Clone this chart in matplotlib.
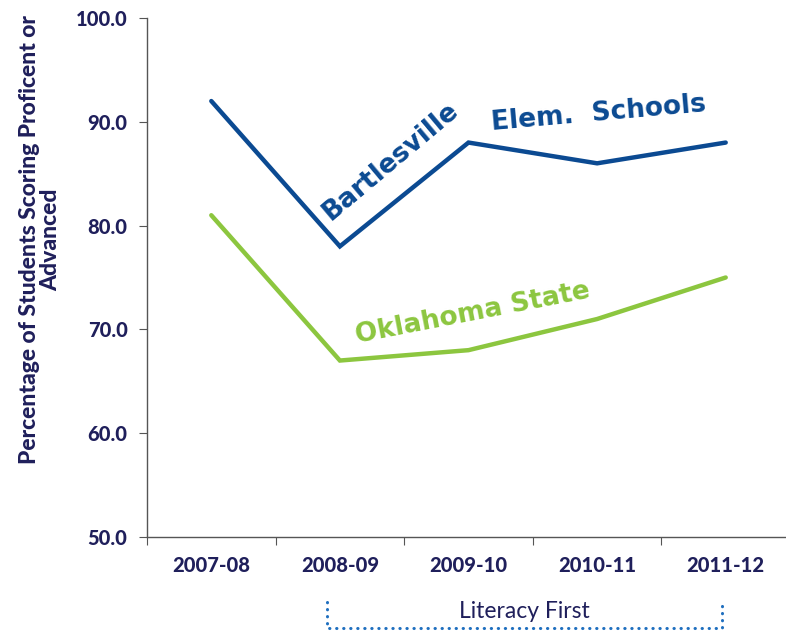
import matplotlib
matplotlib.use("Agg")
import matplotlib.pyplot as plt
from matplotlib.lines import Line2D

years = ["2007-08", "2008-09", "2009-10", "2010-11", "2011-12"]
bartlesville = [92, 78, 88, 86, 88]
oklahoma = [81, 67, 68, 71, 75]
y_ticks = [50, 60, 70, 80, 90, 100]

navy = "#0B4A92"
green = "#8CC63F"
text_col = "#1F1F5B"

plt.rcParams['font.family'] = ['Lato', 'DejaVu Sans']

fig = plt.figure(figsize=(7.86, 6.31), dpi=100)
ax = fig.add_axes([147 / 786, 1 - 537 / 631, 643 / 786, 519 / 631])

x = list(range(len(years)))
ax.plot(x, bartlesville, color=navy, lw=3.2, solid_capstyle='round', solid_joinstyle='miter')
ax.plot(x, oklahoma, color=green, lw=3.2, solid_capstyle='round', solid_joinstyle='miter')

ax.set_xlim(-0.5, 4.5)
ax.set_ylim(50, 100)
ax.set_yticks(y_ticks)
ax.set_yticklabels([f"{v:.1f}" for v in y_ticks])
ax.set_xticks([i - 0.5 for i in range(6)])
ax.set_xticklabels([])
ax.set_xticks(x, minor=True)
ax.set_xticklabels(years, minor=True)
ax.tick_params(axis='x', which='minor', length=0, pad=14)
ax.tick_params(axis='x', which='major', length=6, direction='out', color='#555555')
ax.tick_params(axis='y', length=6, color='#555555', pad=8)
for lab in ax.get_xticklabels(minor=True) + ax.get_yticklabels():
    lab.set_fontweight(900)
    lab.set_fontsize(14.5)
    lab.set_color(text_col)

for s in ['top', 'right']:
    ax.spines[s].set_visible(False)
for s in ['left', 'bottom']:
    ax.spines[s].set_color('#555555')
    ax.spines[s].set_linewidth(1)

# y axis title, placed by hand (sits a bit above the axes centre)
fig.text(40 / 786, 1 - 240 / 631, "Percentage of Students Scoring Proficent or\nAdvanced",
         rotation=90, ha='center', va='center', multialignment='center',
         fontsize=16.5, fontweight=900, color=text_col, linespacing=1.05)

# series labels
lab_font = dict(fontsize=19, fontweight='bold', family='DejaVu Sans',
                ha='left', va='baseline', rotation_mode='anchor')
ax.text(0.925, 80.4, "Bartlesville", rotation=40, color=navy, **lab_font)
ax.text(2.185, 89.2, "Elem.  Schools", rotation=5, color=navy, **lab_font)
ax.text(1.135, 68.7, "Oklahoma State", rotation=11, color=green, **lab_font)

# Literacy First bracket
bx0, bx1 = 327 / 786, 722 / 786
by0, by1 = 1 - 628 / 631, 1 - 602 / 631
fig.add_artist(Line2D([bx0, bx0, bx1, bx1], [by1, by0, by0, by1],
                      transform=fig.transFigure, color="#1F6FBF", lw=2.2,
                      linestyle=(0, (0.1, 2.2)), dash_capstyle='round'))
fig.text((bx0 + bx1) / 2, 1 - 611 / 631, "Literacy First", ha='center', va='center',
         fontsize=16.5, color=text_col)

fig.savefig("out.png", dpi=100)
